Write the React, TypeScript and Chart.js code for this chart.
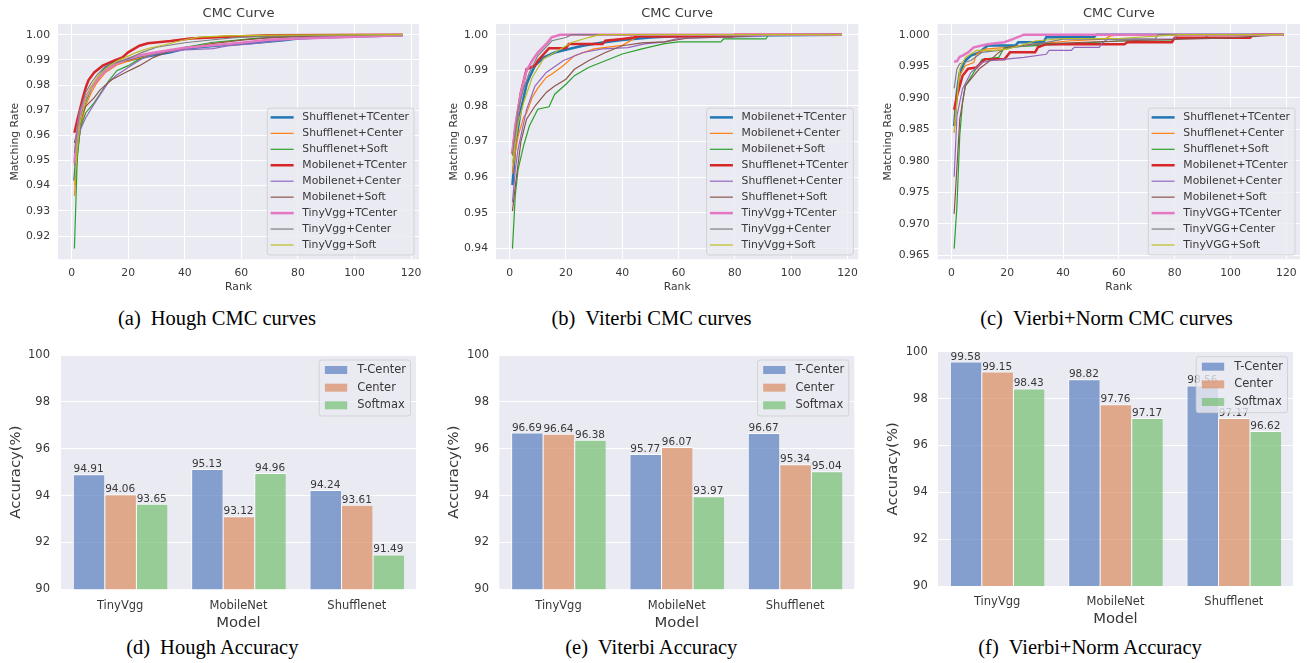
import React, { useEffect, useRef } from "react";
import { Chart, registerables } from "chart.js";
Chart.register(...registerables);

type Pair = [number, number];

// ---------------- DATA ----------------
const cmcRankTicks = [0, 20, 40, 60, 80, 100, 120];

// (a) Hough CMC
const houghYTicks = [0.92, 0.93, 0.94, 0.95, 0.96, 0.97, 0.98, 0.99, 1.0];
const houghLabels = [
  "Shufflenet+TCenter", "Shufflenet+Center", "Shufflenet+Soft",
  "Mobilenet+TCenter", "Mobilenet+Center", "Mobilenet+Soft",
  "TinyVgg+TCenter", "TinyVgg+Center", "TinyVgg+Soft",
];
const houghShufTC: Pair[] = [[1,0.942],[2,0.955],[3,0.963],[4,0.970],[5,0.974],[7,0.979],[9,0.982],[12,0.987],[15,0.989],[20,0.9897],[25,0.991],[30,0.992],[35,0.993],[40,0.9945],[50,0.9955],[55,0.996],[65,0.9968],[75,0.9978],[80,0.9985],[90,0.999],[110,0.9996],[117,0.9998]];
const houghShufC: Pair[] = [[1,0.936],[2,0.952],[3,0.962],[5,0.972],[7,0.977],[9,0.981],[12,0.985],[16,0.988],[20,0.9895],[25,0.991],[30,0.9925],[40,0.9948],[50,0.9965],[60,0.998],[70,0.9988],[85,0.9995],[117,1.0]];
const houghShufS: Pair[] = [[1,0.915],[2,0.9505],[3,0.9625],[5,0.969],[8,0.973],[10,0.9764],[13,0.9815],[16,0.9857],[20,0.9877],[24,0.9903],[30,0.9925],[40,0.995],[50,0.997],[55,0.9975],[65,0.9985],[80,0.9993],[100,0.9998],[117,1.0]];
const houghMobTC: Pair[] = [[1,0.961],[2,0.966],[3,0.9705],[4,0.975],[5,0.979],[6,0.982],[8,0.985],[11,0.9877],[15,0.9897],[18,0.991],[20,0.993],[24,0.9956],[27,0.9966],[35,0.9975],[42,0.9985],[55,0.9992],[70,0.9998],[117,1.0]];
const houghMobC: Pair[] = [[1,0.948],[2,0.956],[3,0.962],[5,0.967],[8,0.9725],[10,0.976],[13,0.981],[16,0.984],[20,0.987],[25,0.9905],[30,0.9925],[40,0.994],[50,0.9945],[55,0.9955],[65,0.9965],[75,0.9978],[85,0.999],[117,0.9998]];
const houghMobS: Pair[] = [[1,0.957],[2,0.962],[3,0.966],[5,0.9715],[8,0.975],[10,0.978],[14,0.982],[19,0.985],[24,0.9877],[29,0.991],[35,0.9936],[42,0.995],[50,0.9965],[60,0.9978],[70,0.9988],[85,0.9995],[117,1.0]];
const houghVggTC: Pair[] = [[1,0.949],[2,0.962],[3,0.969],[5,0.975],[7,0.979],[10,0.9835],[13,0.9865],[16,0.9885],[20,0.9905],[25,0.992],[30,0.993],[40,0.9948],[50,0.9958],[60,0.9968],[70,0.998],[80,0.9985],[95,0.999],[117,0.9998]];
const houghVggC: Pair[] = [[1,0.953],[2,0.963],[3,0.97],[5,0.977],[7,0.981],[9,0.984],[12,0.9875],[16,0.989],[20,0.9905],[25,0.993],[30,0.995],[40,0.9968],[50,0.998],[60,0.999],[75,0.9995],[117,1.0]];
const houghVggS: Pair[] = [[1,0.94],[2,0.955],[3,0.965],[5,0.974],[7,0.9795],[9,0.983],[12,0.9865],[16,0.9895],[20,0.9915],[23,0.993],[27,0.9945],[33,0.996],[40,0.998],[45,0.999],[55,0.9995],[70,0.9998],[117,1.0]];

// (b) Viterbi CMC
const viterbiYTicks = [0.94, 0.95, 0.96, 0.97, 0.98, 0.99, 1.0];
const viterbiLabels = [
  "Mobilenet+TCenter", "Mobilenet+Center", "Mobilenet+Soft",
  "Shufflenet+TCenter", "Shufflenet+Center", "Shufflenet+Soft",
  "TinyVgg+TCenter", "TinyVgg+Center", "TinyVgg+Soft",
];
const vitMobTC: Pair[] = [[1,0.9578],[2,0.9688],[4,0.979],[6,0.986],[7,0.988],[9,0.9913],[12,0.9936],[16,0.995],[21,0.996],[26,0.9969],[33,0.9978],[40,0.9985],[50,0.9992],[60,0.9996],[118,1.0]];
const vitMobC: Pair[] = [[1,0.961],[2,0.967],[3,0.9715],[5,0.977],[6,0.978],[8,0.9824],[10,0.985],[13,0.988],[15,0.989],[19,0.9913],[23,0.9941],[30,0.996],[35,0.9965],[40,0.997],[44,0.9988],[45,0.9995],[82,1.0],[118,1.0]];
const vitMobS: Pair[] = [[1,0.94],[2,0.955],[3,0.9622],[5,0.969],[7,0.9744],[10,0.9791],[14,0.9798],[16,0.9833],[20,0.9861],[23,0.9885],[28,0.9908],[34,0.9927],[40,0.9946],[47,0.996],[55,0.9975],[60,0.998],[75,0.998],[76,0.9988],[91,0.9988],[92,1.0],[118,1.0]];
const vitShufTC: Pair[] = [[1,0.9666],[2,0.9735],[4,0.9838],[6,0.9903],[9,0.9913],[10,0.9927],[14,0.9962],[20,0.9962],[21,0.9974],[33,0.9974],[34,0.9983],[40,0.9988],[44,0.9992],[46,0.9995],[79,0.9995],[80,1.0],[118,1.0]];
const vitShufC: Pair[] = [[1,0.953],[2,0.962],[3,0.968],[6,0.979],[9,0.9856],[13,0.9894],[19,0.9927],[26,0.995],[33,0.996],[42,0.9964],[48,0.9974],[55,0.998],[60,0.999],[89,0.9995],[90,1.0],[118,1.0]];
const vitShufS: Pair[] = [[1,0.9505],[2,0.9575],[4,0.97],[6,0.9763],[9,0.98],[13,0.9838],[16,0.9856],[20,0.9875],[23,0.9903],[28,0.9927],[34,0.995],[40,0.9969],[47,0.9977],[55,0.998],[63,0.999],[82,0.9995],[90,1.0],[118,1.0]];
const vitVggTC: Pair[] = [[1,0.967],[2,0.9744],[4,0.9838],[6,0.9899],[8,0.9927],[10,0.995],[13,0.9974],[15,0.9993],[18,1.0],[118,1.0]];
const vitVggC: Pair[] = [[1,0.966],[3,0.979],[5,0.985],[7,0.9894],[10,0.9941],[15,0.9983],[20,0.9992],[22,1.0],[118,1.0]];
const vitVggS: Pair[] = [[1,0.964],[3,0.975],[5,0.981],[8,0.988],[12,0.9932],[16,0.995],[22,0.9978],[28,0.9992],[32,1.0],[118,1.0]];

// (c) Viterbi+Norm CMC
const normYTicks = [0.965, 0.97, 0.975, 0.98, 0.985, 0.99, 0.995, 1.0];
const normLabels = [
  "Shufflenet+TCenter", "Shufflenet+Center", "Shufflenet+Soft",
  "Mobilenet+TCenter", "Mobilenet+Center", "Mobilenet+Soft",
  "TinyVGG+TCenter", "TinyVGG+Center", "TinyVGG+Soft",
];
const normShufTC: Pair[] = [[1,0.9855],[2,0.991],[3,0.994],[5,0.9959],[7,0.9967],[10,0.9972],[13,0.9983],[23,0.9983],[24,0.9988],[33,0.9988],[34,0.9996],[51,0.9996],[52,1.0],[119,1.0]];
const normShufC: Pair[] = [[1,0.9845],[2,0.9905],[3,0.9935],[5,0.9951],[8,0.9956],[9,0.9969],[12,0.9977],[20,0.998],[30,0.9985],[42,0.999],[55,0.9993],[57,0.9998],[61,1.0],[119,1.0]];
const normShufS: Pair[] = [[1,0.9661],[2,0.9729],[3,0.984],[4,0.9893],[5,0.9919],[8,0.994],[11,0.9961],[17,0.9964],[19,0.998],[40,0.9985],[60,0.999],[79,0.999],[80,0.9995],[91,0.9995],[92,1.0],[119,1.0]];
const normMobTC: Pair[] = [[1,0.9881],[2,0.9903],[3,0.9919],[4,0.9935],[6,0.9946],[9,0.9948],[12,0.9961],[19,0.9961],[21,0.9972],[30,0.9972],[31,0.998],[34,0.9985],[62,0.9985],[63,0.9988],[79,0.9988],[80,0.9995],[107,0.9995],[108,1.0],[119,1.0]];
const normMobC: Pair[] = [[1,0.9775],[2,0.9872],[4,0.9914],[7,0.994],[11,0.9956],[14,0.9959],[26,0.9964],[34,0.9969],[35,0.9975],[43,0.9975],[44,0.998],[53,0.998],[54,0.9987],[56,0.9993],[80,0.9993],[81,1.0],[119,1.0]];
const normMobS: Pair[] = [[1,0.9716],[3,0.9866],[5,0.9919],[8,0.9935],[10,0.9946],[13,0.9956],[17,0.9972],[20,0.998],[30,0.9985],[60,0.999],[100,0.9995],[119,1.0]];
const normVggTC: Pair[] = [[1,0.9957],[2,0.9958],[3,0.9965],[4,0.9967],[6,0.9972],[8,0.998],[13,0.9985],[19,0.9988],[22,0.9993],[26,1.0],[119,1.0]];
const normVggC: Pair[] = [[1,0.9915],[2,0.9946],[3,0.9954],[7,0.9959],[11,0.9972],[17,0.9975],[22,0.998],[31,0.9985],[40,0.9993],[73,0.9993],[74,1.0],[119,1.0]];
const normVggS: Pair[] = [[1,0.9845],[3,0.9946],[5,0.9964],[9,0.9975],[15,0.9975],[20,0.9977],[30,0.999],[40,0.9994],[60,0.9994],[82,1.0],[119,1.0]];

// Bar charts
const models = ["TinyVgg", "MobileNet", "Shufflenet"];
const lossNames = ["T-Center", "Center", "Softmax"];
const accTicks = [90, 92, 94, 96, 98, 100];
const houghTCenter = [94.91, 95.13, 94.24];
const houghCenter = [94.06, 93.12, 93.61];
const houghSoftmax = [93.65, 94.96, 91.49];
const viterbiTCenter = [96.69, 95.77, 96.67];
const viterbiCenter = [96.64, 96.07, 95.34];
const viterbiSoftmax = [96.38, 93.97, 95.04];
const normTCenter = [99.58, 98.82, 98.56];
const normCenter = [99.15, 97.76, 97.17];
const normSoftmax = [98.43, 97.17, 96.62];

// ---------------- STYLE ----------------
const FONT = "'DejaVu Sans', sans-serif";
const TEXT = "#383838";
const PLOT_BG = "#EAEAF2";
const LINE_COLORS = ["#1f77b4", "#ff7f0e", "#2ca02c", "#d62728", "#9467bd", "#8c564b", "#e377c2", "#7f7f7f", "#bcbd22"];
const THICK = [0, 3, 6];
const BAR_COLORS = ["rgba(89,125,191,0.7)", "rgba(218,139,95,0.7)", "rgba(117,191,113,0.7)"];

const bgPlugin = {
  id: "plotBg",
  beforeDraw(chart: any) {
    const { ctx, chartArea: a } = chart;
    ctx.save();
    ctx.fillStyle = PLOT_BG;
    ctx.fillRect(a.left, a.top, a.right - a.left, a.bottom - a.top);
    ctx.restore();
  },
};

function roundRect(ctx: CanvasRenderingContext2D, x: number, y: number, w: number, h: number, r: number) {
  ctx.beginPath();
  ctx.moveTo(x + r, y);
  ctx.lineTo(x + w - r, y);
  ctx.quadraticCurveTo(x + w, y, x + w, y + r);
  ctx.lineTo(x + w, y + h - r);
  ctx.quadraticCurveTo(x + w, y + h, x + w - r, y + h);
  ctx.lineTo(x + r, y + h);
  ctx.quadraticCurveTo(x, y + h, x, y + h - r);
  ctx.lineTo(x, y + r);
  ctx.quadraticCurveTo(x, y, x + r, y);
  ctx.closePath();
}

const lineLegendPlugin = {
  id: "lineLegend",
  afterDraw(chart: any) {
    const { ctx, chartArea: a } = chart;
    const ds = chart.data.datasets;
    ctx.save();
    ctx.font = `10.8px ${FONT}`;
    const tw = Math.max(...ds.map((d: any) => ctx.measureText(d.label).width));
    const rowH = 15.95;
    const padL = 3.3, lineLen = 23, gap = 8.7, padR = 5;
    const w = padL + lineLen + gap + tw + padR;
    const h = 9.3 + (ds.length - 1) * rowH + 10;
    const x0 = a.right - 5 - w;
    const y0 = a.bottom - 4.3 - h;
    roundRect(ctx, x0, y0, w, h, 2.5);
    ctx.fillStyle = "rgba(234,234,242,0.8)";
    ctx.fill();
    ctx.strokeStyle = "rgba(204,204,204,0.8)";
    ctx.lineWidth = 1;
    ctx.stroke();
    ds.forEach((d: any, i: number) => {
      const cy = y0 + 9.3 + i * rowH;
      ctx.beginPath();
      ctx.strokeStyle = d.borderColor;
      ctx.lineWidth = d.borderWidth;
      ctx.moveTo(x0 + padL, cy);
      ctx.lineTo(x0 + padL + lineLen, cy);
      ctx.stroke();
      ctx.fillStyle = TEXT;
      ctx.textAlign = "left";
      ctx.textBaseline = "middle";
      ctx.fillText(d.label, x0 + padL + lineLen + gap, cy);
    });
    ctx.restore();
  },
};

const barLegendPlugin = {
  id: "barLegend",
  afterDraw(chart: any) {
    const { ctx, chartArea: a } = chart;
    const ds = chart.data.datasets;
    ctx.save();
    ctx.font = `11.5px ${FONT}`;
    const tw = Math.max(...ds.map((d: any) => ctx.measureText(d.label).width));
    const w = 38 + tw + 4.5;
    const rowH = 17.65;
    const h = 10 + (ds.length - 1) * rowH + 10.7;
    const x0 = a.right - 5.5 - w;
    const y0 = a.top + 5;
    roundRect(ctx, x0, y0, w, h, 2.5);
    ctx.fillStyle = "rgba(234,234,242,0.8)";
    ctx.fill();
    ctx.strokeStyle = "rgba(204,204,204,0.8)";
    ctx.lineWidth = 1;
    ctx.stroke();
    ds.forEach((d: any, i: number) => {
      const cy = y0 + 10 + i * rowH;
      ctx.fillStyle = d.backgroundColor;
      ctx.fillRect(x0 + 5.7, cy - 4, 22.3, 8);
      ctx.fillStyle = TEXT;
      ctx.textAlign = "left";
      ctx.textBaseline = "middle";
      ctx.fillText(d.label, x0 + 38, cy);
    });
    ctx.restore();
  },
};

const barValuesPlugin = {
  id: "barValues",
  afterDatasetsDraw(chart: any) {
    const { ctx } = chart;
    ctx.save();
    ctx.font = `10.5px ${FONT}`;
    ctx.fillStyle = TEXT;
    ctx.textAlign = "center";
    ctx.textBaseline = "alphabetic";
    chart.data.datasets.forEach((d: any, i: number) => {
      const meta = chart.getDatasetMeta(i);
      meta.data.forEach((el: any, j: number) => {
        ctx.fillText(Number(d.data[j]).toFixed(2), el.x, el.y - 2);
      });
    });
    ctx.restore();
  },
};

interface CmcOpts {
  labels: string[];
  series: Pair[][];
  yTicks: number[];
  decimals: number;
  yAxisW: number;
  xAxisH: number;
  padRight: number;
  yTitlePad: number;
}

function cmcConfig(o: CmcOpts): any {
  const all = o.series.flat();
  const rs = all.map((p) => p[0]);
  const vs = all.map((p) => p[1]);
  const rMin = Math.min(...rs), rMax = Math.max(...rs);
  const vMin = Math.min(...vs), vMax = Math.max(...vs);
  const mx = 0.05 * (rMax - rMin), my = 0.05 * (vMax - vMin);
  const tickFont = { family: FONT, size: 10.8 };
  return {
    type: "line",
    data: {
      datasets: o.series.map((s, i) => ({
        label: o.labels[i],
        data: s.map(([x, y]) => ({ x, y })),
        borderColor: LINE_COLORS[i],
        backgroundColor: LINE_COLORS[i],
        borderWidth: THICK.includes(i) ? 2.5 : 1.2,
        pointRadius: 0,
        tension: 0,
        fill: false,
        order: o.series.length - i,
      })),
    },
    options: {
      animation: false,
      responsive: false,
      devicePixelRatio: 1,
      layout: { padding: { left: 0, right: o.padRight, top: 0, bottom: 0 } },
      plugins: {
        legend: { display: false },
        tooltip: { enabled: false },
        title: {
          display: true,
          text: "CMC Curve",
          fullSize: false,
          color: TEXT,
          font: { family: FONT, size: 13, weight: "normal" },
          padding: { top: 6.2, bottom: 2.2 },
        },
      },
      scales: {
        x: {
          type: "linear",
          min: rMin - mx,
          max: rMax + mx,
          afterBuildTicks: (s: any) => { s.ticks = cmcRankTicks.map((v) => ({ value: v })); },
          afterFit: (s: any) => { s.height = o.xAxisH; },
          grid: { color: "#ffffff", lineWidth: 1, drawTicks: false },
          border: { display: false },
          ticks: { color: TEXT, font: tickFont, padding: 7.5, maxRotation: 0, autoSkip: false, callback: (v: any) => String(v) },
          title: { display: true, text: "Rank", color: TEXT, font: tickFont, padding: { top: 0, bottom: 6.8 } },
        },
        y: {
          type: "linear",
          min: vMin - my,
          max: vMax + my,
          afterBuildTicks: (s: any) => { s.ticks = o.yTicks.map((v) => ({ value: v })); },
          afterFit: (s: any) => { s.width = o.yAxisW; },
          grid: { color: "#ffffff", lineWidth: 1, drawTicks: false },
          border: { display: false },
          ticks: { color: TEXT, font: tickFont, padding: 8, autoSkip: false, callback: (v: any) => Number(v).toFixed(o.decimals) },
          title: { display: true, text: "Matching Rate", color: TEXT, font: tickFont, padding: { top: o.yTitlePad, bottom: 0 } },
        },
      },
    },
    plugins: [bgPlugin, lineLegendPlugin],
  };
}

interface BarOpts {
  series: number[][];
  padTop: number;
  padRight: number;
  yAxisW: number;
  xAxisH: number;
  yTitlePad: number;
  xTitlePad: number;
  yTickPad: number;
  xTickPad: number;
}

function barConfig(o: BarOpts): any {
  const tickFont = { family: FONT, size: 11.5 };
  const titleFont = { family: FONT, size: 14.8 };
  return {
    type: "bar",
    data: {
      labels: models,
      datasets: o.series.map((s, i) => ({
        label: lossNames[i],
        data: s,
        backgroundColor: BAR_COLORS[i],
        borderColor: "rgba(255,255,255,0.9)",
        borderWidth: { top: 1, left: 1, right: 0, bottom: 0 },
        borderSkipped: false,
        categoryPercentage: 0.8,
        barPercentage: 1.0,
      })),
    },
    options: {
      animation: false,
      responsive: false,
      devicePixelRatio: 1,
      layout: { padding: { left: 0, right: o.padRight, top: o.padTop, bottom: 0 } },
      plugins: { legend: { display: false }, tooltip: { enabled: false }, title: { display: false } },
      scales: {
        x: {
          type: "category",
          afterFit: (s: any) => { s.height = o.xAxisH; },
          grid: { display: false, drawTicks: false },
          border: { display: false },
          ticks: { color: TEXT, font: tickFont, padding: o.xTickPad, maxRotation: 0 },
          title: { display: true, text: "Model", color: TEXT, font: titleFont, padding: { top: 0, bottom: o.xTitlePad } },
        },
        y: {
          type: "linear",
          min: 90,
          max: 100,
          afterBuildTicks: (s: any) => { s.ticks = accTicks.map((v) => ({ value: v })); },
          afterFit: (s: any) => { s.width = o.yAxisW; },
          grid: { color: "#ffffff", lineWidth: 1, drawTicks: false },
          border: { display: false },
          ticks: { color: TEXT, font: tickFont, padding: o.yTickPad, autoSkip: false, callback: (v: any) => String(v) },
          title: { display: true, text: "Accuracy(%)", color: TEXT, font: titleFont, padding: { top: o.yTitlePad, bottom: 0 } },
        },
      },
    },
    plugins: [bgPlugin, barValuesPlugin, barLegendPlugin],
  };
}

function ChartBox(props: { left: number; top: number; width: number; height: number; make: () => any }) {
  const ref = useRef<HTMLCanvasElement>(null);
  useEffect(() => {
    const chart = new Chart(ref.current as HTMLCanvasElement, props.make());
    return () => chart.destroy();
  }, []);
  return (
    <canvas
      ref={ref}
      width={props.width}
      height={props.height}
      style={{ position: "absolute", left: props.left, top: props.top, width: props.width, height: props.height }}
    />
  );
}

function Caption(props: { x: number; y: number; tag: string; text: string }) {
  return (
    <div
      style={{
        position: "absolute",
        left: props.x,
        top: props.y,
        transform: "translate(-50%, -50%)",
        whiteSpace: "nowrap",
        fontFamily: "'Liberation Serif', 'Times New Roman', serif",
        fontSize: 20.5,
        color: "#000",
        lineHeight: 1,
      }}
    >
      <span>{props.tag}</span>
      <span style={{ marginLeft: 10 }}>{props.text}</span>
    </div>
  );
}

export default function App() {
  return (
    <div style={{ position: "fixed", left: 0, top: 0, width: 1307, height: 663, background: "#fff", overflow: "hidden" }}>
      <ChartBox left={0} top={0} width={430} height={300} make={() => cmcConfig({
        labels: houghLabels,
        series: [houghShufTC, houghShufC, houghShufS, houghMobTC, houghMobC, houghMobS, houghVggTC, houghVggC, houghVggS],
        yTicks: houghYTicks, decimals: 2, yAxisW: 58, xAxisH: 40.7, padRight: 11, yTitlePad: 8.5,
      })} />
      <ChartBox left={430} top={0} width={440} height={300} make={() => cmcConfig({
        labels: viterbiLabels,
        series: [vitMobTC, vitMobC, vitMobS, vitShufTC, vitShufC, vitShufS, vitVggTC, vitVggC, vitVggS],
        yTicks: viterbiYTicks, decimals: 2, yAxisW: 66, xAxisH: 40.7, padRight: 11.7, yTitlePad: 17.8,
      })} />
      <ChartBox left={870} top={0} width={437} height={300} make={() => cmcConfig({
        labels: normLabels,
        series: [normShufTC, normShufC, normShufS, normMobTC, normMobC, normMobS, normVggTC, normVggC, normVggS],
        yTicks: normYTicks, decimals: 3, yAxisW: 67.7, xAxisH: 40.7, padRight: 7, yTitlePad: 11.8,
      })} />

      <ChartBox left={0} top={330} width={430} height={305} make={() => barConfig({
        series: [houghTCenter, houghCenter, houghSoftmax],
        padTop: 25, padRight: 14, yAxisW: 61, xAxisH: 45.7, yTitlePad: 6.8, xTitlePad: 2.8, yTickPad: 11, xTickPad: 9.8,
      })} />
      <ChartBox left={430} top={330} width={440} height={305} make={() => barConfig({
        series: [viterbiTCenter, viterbiCenter, viterbiSoftmax],
        padTop: 25, padRight: 15.7, yAxisW: 69.3, xAxisH: 45.7, yTitlePad: 15.4, xTitlePad: 2.8, yTickPad: 10.3, xTickPad: 9.8,
      })} />
      <ChartBox left={870} top={330} width={437} height={305} make={() => barConfig({
        series: [normTCenter, normCenter, normSoftmax],
        padTop: 21.7, padRight: 14, yAxisW: 68, xAxisH: 49, yTitlePad: 14.4, xTitlePad: 6.8, yTickPad: 10.3, xTickPad: 8.8,
      })} />

      <Caption x={217} y={318} tag="(a)" text="Hough CMC curves" />
      <Caption x={651.5} y={318} tag="(b)" text="Viterbi CMC curves" />
      <Caption x={1106.5} y={318} tag="(c)" text="Vierbi+Norm CMC curves" />
      <Caption x={212.3} y={647} tag="(d)" text="Hough Accuracy" />
      <Caption x={651.3} y={647} tag="(e)" text="Viterbi Accuracy" />
      <Caption x={1090} y={647} tag="(f)" text="Vierbi+Norm Accuracy" />
    </div>
  );
}
